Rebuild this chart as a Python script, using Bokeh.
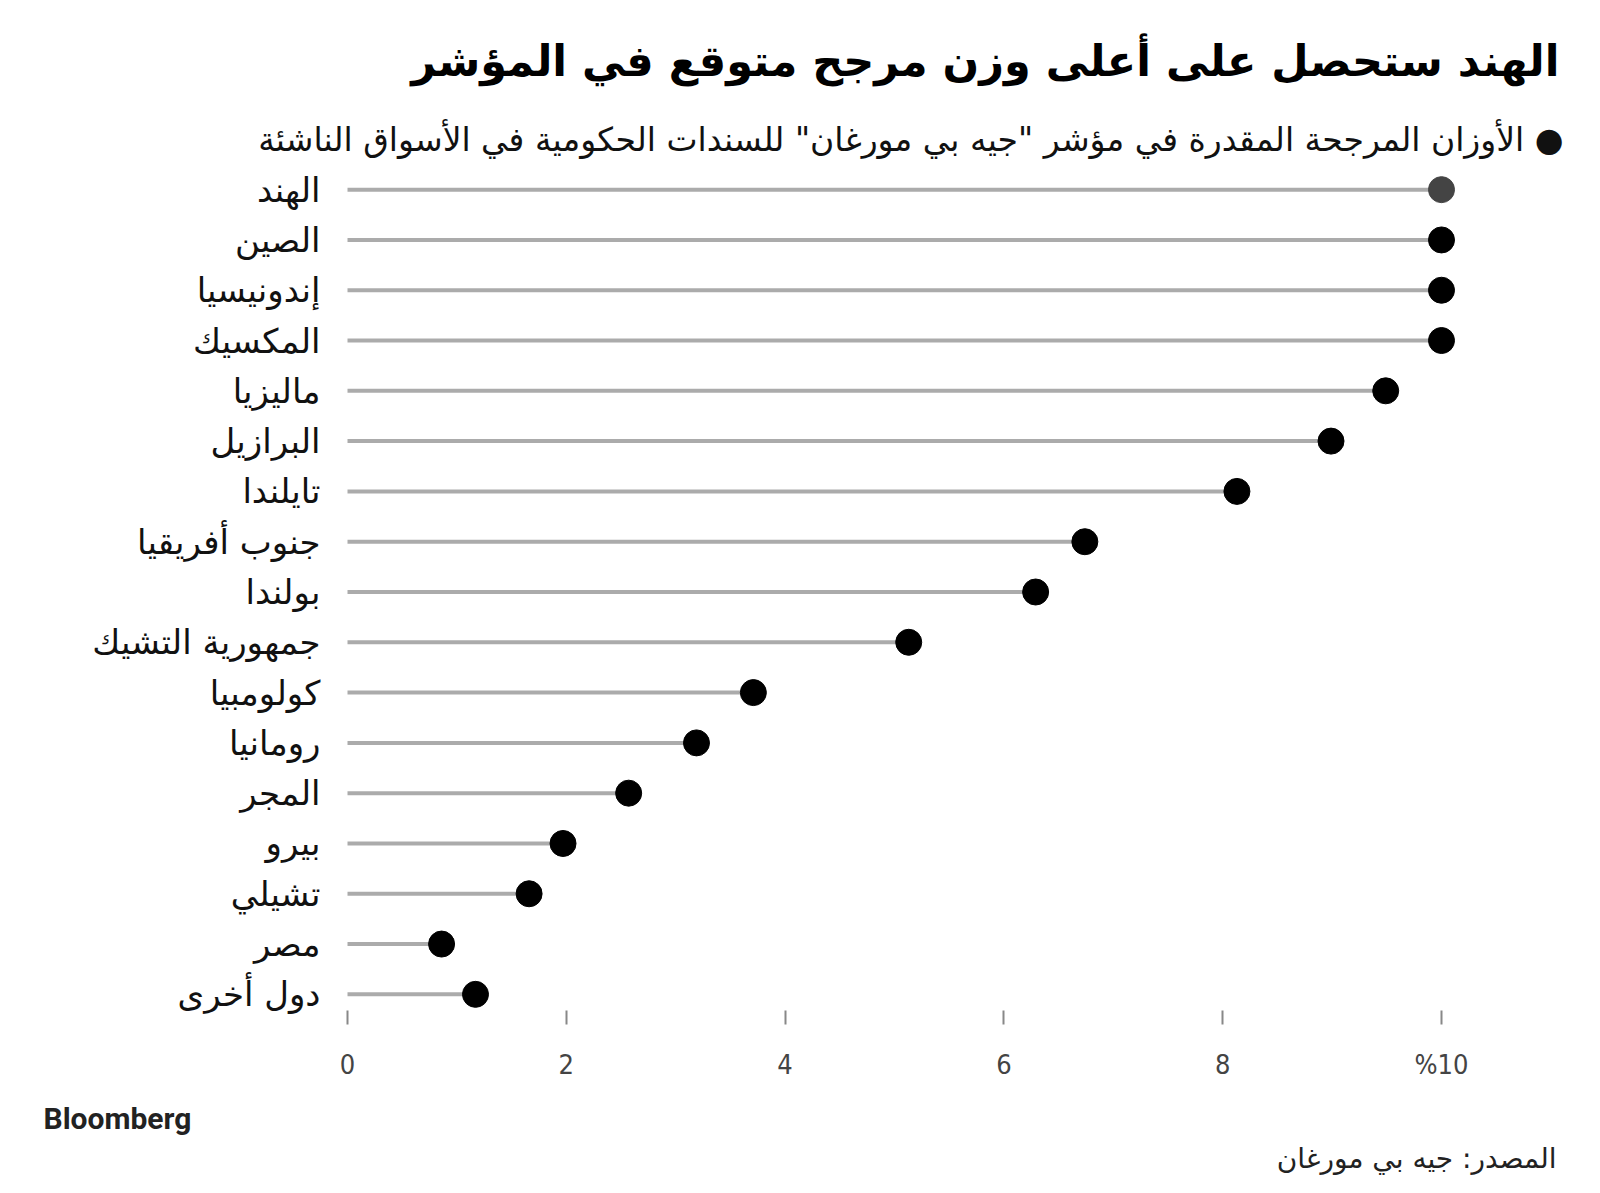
from bokeh.plotting import figure
from bokeh.models import Range1d, FixedTicker, Title, ColumnDataSource
from bokeh.embed import file_html
from bokeh.resources import INLINE

title_text = "الهند ستحصل على أعلى وزن مرجح متوقع في المؤشر"
legend_text = "الأوزان المرجحة المقدرة في مؤشر \"جيه بي مورغان\" للسندات الحكومية في الأسواق الناشئة"
source_text = "المصدر: جيه بي مورغان"
brand_text = "Bloomberg"

countries = ["الهند", "الصين", "إندونيسيا", "المكسيك", "ماليزيا", "البرازيل", "تايلندا",
             "جنوب أفريقيا", "بولندا", "جمهورية التشيك", "كولومبيا", "رومانيا", "المجر",
             "بيرو", "تشيلي", "مصر", "دول أخرى"]
weights = [10.0, 10.0, 10.0, 10.0, 9.49, 8.99, 8.13, 6.74, 6.29, 5.13, 3.71, 3.19, 2.57,
           1.97, 1.66, 0.86, 1.17]
dot_colors = ["#444444"] + ["#000000"] * 16
x_ticks = [0, 2, 4, 6, 8, 10]
x_tick_labels = ["0", "2", "4", "6", "8", "%10"]

W, H = 1600, 1193
FL, FR, FT, FB = 335, 1470, 164, 1019  # frame edges in page px
scale = (1441 - 347) / 10.0
x0 = -(347 - FL) / scale
x1 = (FR - 347) / scale
n = len(countries)
rows = list(range(n))

p = figure(width=W, height=H, output_backend="svg", toolbar_location=None,
           x_range=Range1d(x0, x1),
           y_range=Range1d(n - 0.5, -0.5),
           min_border_left=FL, min_border_right=W - FR,
           min_border_top=FT, min_border_bottom=H - FB)
p.outline_line_color = None
p.xgrid.visible = False
p.ygrid.visible = False
p.background_fill_color = "white"
p.border_fill_color = "white"

src = ColumnDataSource(dict(r=rows, w=weights, z=[0] * n, col=dot_colors))
p.segment(x0="z", y0="r", x1="w", y1="r", source=src, line_color="#ababab", line_width=4)
p.scatter(x="w", y="r", source=src, size=26, fill_color="col", line_color="col")

# x axis
xa = p.xaxis[0]
xa.ticker = FixedTicker(ticks=x_ticks)
xa.major_label_overrides = {t: l for t, l in zip(x_ticks, x_tick_labels)}
xa.axis_line_color = None
xa.minor_tick_line_color = None
xa.major_tick_line_color = "#888888"
xa.major_tick_line_width = 2
xa.major_tick_in = 9
xa.major_tick_out = 5
xa.major_label_standoff = 24
xa.major_label_text_font = "DejaVu Sans Condensed"
xa.major_label_text_font_size = "27px"
xa.major_label_text_color = "#444444"

# y axis (country names)
ya = p.yaxis[0]
ya.ticker = FixedTicker(ticks=rows)
ya.major_label_overrides = {r: c for r, c in zip(rows, countries)}
ya.axis_line_color = None
ya.major_tick_line_color = None
ya.minor_tick_line_color = None
ya.major_tick_out = 0
ya.major_tick_in = 0
ya.major_label_standoff = 15
ya.major_label_text_font = "DejaVu Sans"
ya.major_label_text_font_size = "34px"
ya.major_label_text_color = "#111111"

# titles / legend line (above), brand and source (below)
p.add_layout(Title(text=legend_text + " ●", align="right", offset=-93, standoff=11,
                   text_font="DejaVu Sans", text_font_size="33px", text_font_style="normal",
                   text_color="#111111"), "above")
p.title.text = title_text
p.title.align = "right"
p.title.offset = -89
p.title.standoff = 53
p.title.text_font = "DejaVu Sans"
p.title.text_font_size = "43px"
p.title.text_font_style = "bold"
p.title.text_color = "#000000"

p.add_layout(Title(text=brand_text, align="left", offset=-(FL - 43), standoff=33,
                   text_font="Roboto", text_font_size="30px", text_font_style="bold",
                   text_color="#222222"), "below")
p.add_layout(Title(text=source_text, align="right", offset=-(1556 - FR), standoff=-45,
                   text_font="DejaVu Sans", text_font_size="28px", text_font_style="normal",
                   text_color="#222222"), "below")

open("out.html", "w").write(file_html(p, INLINE))
